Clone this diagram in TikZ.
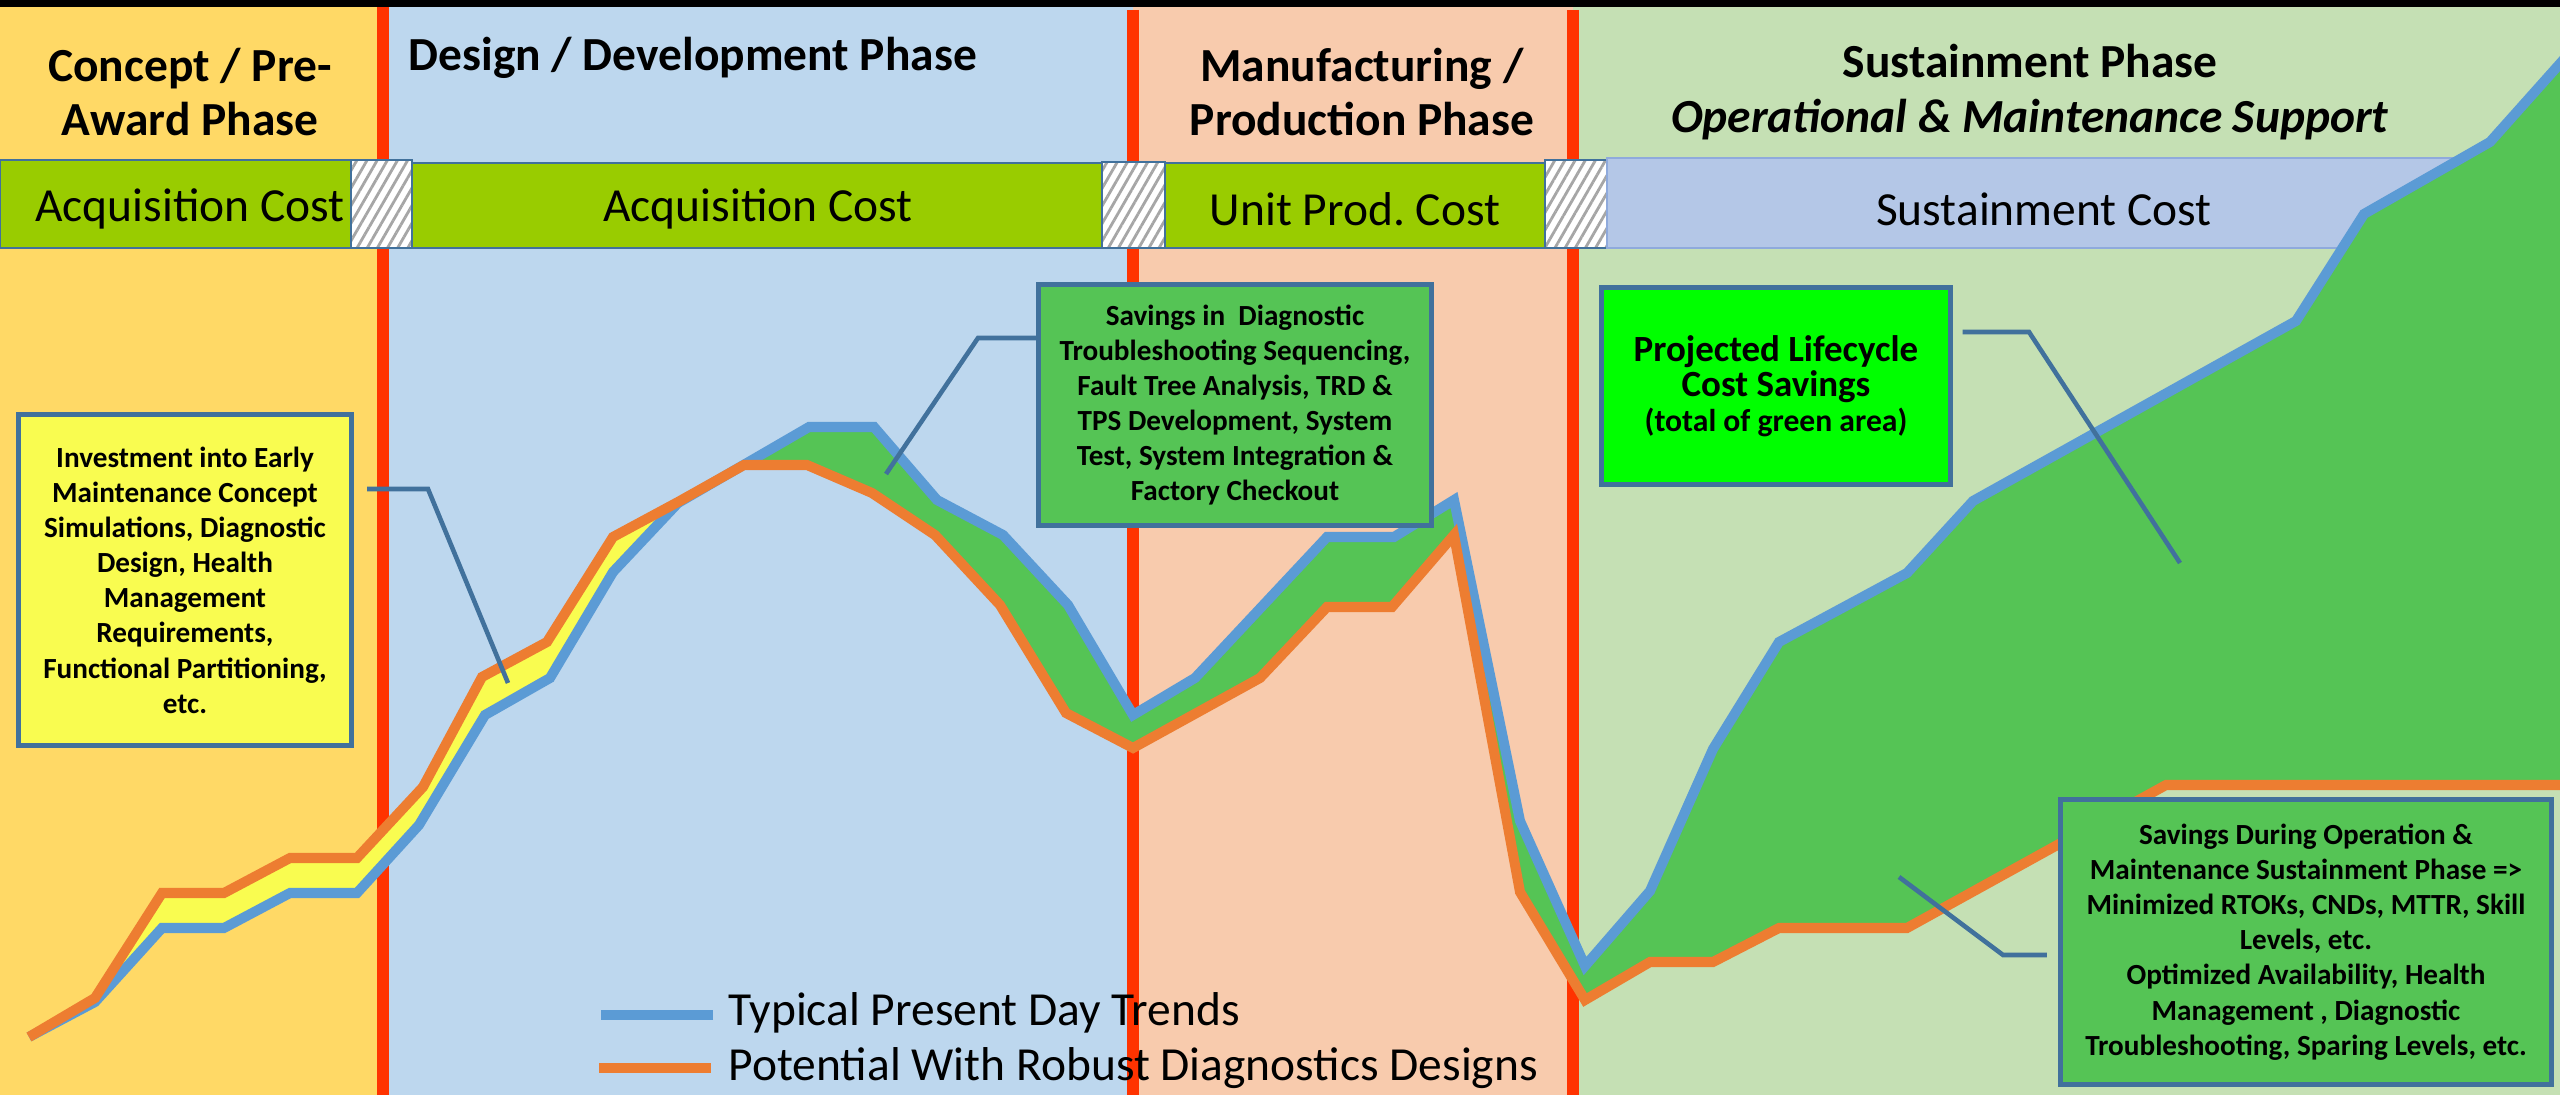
\documentclass[tikz,border=0pt]{standalone}
\usepackage{fontspec}
\setmainfont{Carlito}
\usetikzlibrary{patterns.meta}
\frenchspacing

\definecolor{conceptbg}{HTML}{FFD966}
\definecolor{designbg}{HTML}{BDD7EE}
\definecolor{manufbg}{HTML}{F8CBAD}
\definecolor{sustainbg}{HTML}{C5E0B4}
\definecolor{phaseline}{HTML}{FF3300}
\definecolor{costgreen}{HTML}{99CC00}
\definecolor{costblue}{HTML}{B4C7E7}
\definecolor{costedge}{HTML}{8FAADC}
\definecolor{boxedge}{HTML}{41719C}
\definecolor{hatchgray}{HTML}{A6A6A6}
\definecolor{typicalblue}{HTML}{5B9BD5}
\definecolor{robustorange}{HTML}{ED7D31}
\definecolor{savegreen}{HTML}{55C455}
\definecolor{investyellow}{HTML}{F9FC50}
\definecolor{brightgreen}{HTML}{00FF00}

\tikzset{
  phasetitle/.style={font=\fontsize{13.5}{15.6}\selectfont\bfseries, align=center, inner sep=0pt},
  costtext/.style={font=\fontsize{13.5}{16}\selectfont, inner sep=0pt},
  costbar/.style={fill=costgreen, draw=boxedge, line width=0.6pt},
  hatchbox/.style={pattern={Lines[angle=60,distance=2.5pt,line width=0.8pt]}, pattern color=hatchgray,
    preaction={fill=white}, draw=boxedge, line width=0.6pt},
  callout/.style={draw=boxedge, line width=1.4pt, align=center, inner sep=0pt,
    font=\fontsize{8.3}{10}\selectfont\bfseries},
  leader/.style={boxedge, line width=1.3pt},
  trend/.style={line width=2.85pt},
  legendtext/.style={font=\fontsize{13.5}{16}\selectfont, anchor=west, inner sep=0pt},
}

\begin{document}
\begin{tikzpicture}[x=0.01cm, y=-0.01cm]
    \useasboundingbox (0,0) rectangle (2560,1095);

    % Phase backgrounds
    \fill[black] (0,0) rectangle (2560,7);
    \fill[conceptbg] (0,7) rectangle (383,1095);
    \fill[designbg] (383,7) rectangle (1133,1095);
    \fill[manufbg] (1133,7) rectangle (1573,1095);
    \fill[sustainbg] (1573,7) rectangle (2560,1095);

    % Phase boundaries
    \draw[phaseline, line width=3.4pt] (383,7) -- (383,1095);
    \draw[phaseline, line width=3.4pt] (1133,10) -- (1133,1095);
    \draw[phaseline, line width=3.4pt] (1573,10) -- (1573,1095);

    % Cost bars
    \draw[costbar] (0,160) rectangle (351,248);
    \draw[hatchbox] (351,160) rectangle (412,248);
    \draw[costbar] (412,163) rectangle (1102,248);
    \draw[hatchbox] (1102,162) rectangle (1165,248);
    \draw[costbar] (1165,163) rectangle (1545,248);
    \draw[hatchbox] (1545,160) rectangle (1607,248);
    \draw[fill=costblue, draw=costedge, line width=0.6pt] (1607,158) rectangle (2560,248);

    \node[costtext] (acqone) at (190,209) {Acquisition Cost};
    \node[costtext] (acqtwo) at (758,209) {Acquisition Cost};
    \node[costtext] (unitprod) at (1355,209) {Unit Prod. Cost};
    \node[costtext] (sustcost) at (2044,209) {Sustainment Cost};

    % Phase titles
    \node[phasetitle] (concept) at (190,92) {Concept / Pre-\\Award Phase};
    \node[phasetitle, anchor=west] (design) at (408,58) {Design / Development Phase};
    \node[phasetitle] (manuf) at (1362,92) {Manufacturing /\\Production Phase};
    \node[phasetitle] (sustain) at (2030,92) {Sustainment Phase\\\textit{Operational \& Maintenance Support}};

    % Areas between the two trends
    \fill[investyellow] (95,998) -- (162,893) -- (224,893) -- (290,858) -- (357,858) -- (423,787)
        -- (482,677) -- (547,642) -- (613,537) -- (678,502)
        -- (613,572) -- (550,678) -- (485,715) -- (419,825) -- (357,893) -- (290,893)
        -- (224,928) -- (162,928) -- (95,1002) -- cycle;
    \fill[savegreen] (678,503) -- (809,427) -- (874,427) -- (937,500) -- (1003,535) -- (1068,605)
        -- (1133,715) -- (1195,678) -- (1327,537) -- (1394,537) -- (1454,500) -- (1520,821)
        -- (1585,966) -- (1650,891) -- (1713,749) -- (1779,642) -- (1907,573) -- (1973,501)
        -- (2296,321) -- (2364,214) -- (2490,142) -- (2560,62) -- (2560,785) -- (2166,785)
        -- (1907,928) -- (1779,928) -- (1713,962) -- (1650,962) -- (1585,1000) -- (1520,892)
        -- (1454,535) -- (1392,607) -- (1327,607) -- (1260,678) -- (1133,748) -- (1066,713)
        -- (1000,605) -- (935,535) -- (872,493) -- (807,465) -- (744,465) -- cycle;

    % Trends
    \draw[trend, typicalblue] (29,1037) -- (95,1002) -- (162,928) -- (224,928) -- (290,893)
        -- (357,893) -- (419,825) -- (485,715) -- (550,678) -- (613,572) -- (678,503)
        -- (809,427) -- (874,427) -- (937,500) -- (1003,535) -- (1068,605) -- (1133,715)
        -- (1195,678) -- (1327,537) -- (1394,537) -- (1454,500) -- (1520,821) -- (1585,966)
        -- (1650,891) -- (1713,749) -- (1779,642) -- (1907,573) -- (1973,501) -- (2296,321)
        -- (2364,214) -- (2490,142) -- (2565,58);
    \draw[trend, robustorange] (29,1037) -- (95,998) -- (162,893) -- (224,893) -- (290,858)
        -- (357,858) -- (423,787) -- (482,677) -- (547,642) -- (613,537) -- (678,502)
        -- (744,465) -- (807,465) -- (872,493) -- (935,535) -- (1000,605) -- (1066,713)
        -- (1133,748) -- (1260,678) -- (1327,607) -- (1392,607) -- (1454,535) -- (1520,892)
        -- (1585,1000) -- (1650,962) -- (1713,962) -- (1779,928) -- (1907,928) -- (2166,785)
        -- (2565,785);

    % Callouts
    \node[callout, fill=investyellow, minimum width=3.33cm, minimum height=3.31cm] (invest) at (185,580)
        {Investment into Early\\Maintenance Concept\\Simulations, Diagnostic\\Design, Health\\
         Management\\Requirements,\\Functional Partitioning,\\etc.};
    \node[callout, fill=savegreen, minimum width=3.93cm, minimum height=2.40cm] (diagsave) at (1235,405)
        {Savings in~ Diagnostic\\Troubleshooting Sequencing,\\Fault Tree Analysis, TRD \&\\
         TPS Development, System\\Test, System Integration \&\\Factory Checkout};
    \node[callout, fill=brightgreen, minimum width=3.48cm, minimum height=1.97cm] (lifecycle) at (1776,386)
        {\fontsize{10.5}{12.8}\selectfont Projected Lifecycle\\\fontsize{10.5}{12.8}\selectfont Cost Savings\\
         \fontsize{9}{11.5}\selectfont (total of green area)};
    \node[callout, fill=savegreen, minimum width=4.91cm, minimum height=2.85cm] (opsave) at (2306,942)
        {Savings During Operation \&\\Maintenance Sustainment Phase =>\\
         Minimized RTOKs, CNDs, MTTR, Skill\\Levels, etc.\\Optimized Availability, Health\\
         Management , Diagnostic\\Troubleshooting, Sparing Levels, etc.};

    % Leader lines
    \coordinate (investbend) at (428,489);
    \coordinate (investtip) at (508,683);
    \draw[leader] (invest.east |- investbend) ++(13,0) -- (investbend) -- (investtip);

    \coordinate (diagbend) at (978,338);
    \coordinate (diagtip) at (886,474);
    \draw[leader] (diagsave.west |- diagbend) -- (diagbend) -- (diagtip);

    \coordinate (lifebend) at (2029,332);
    \coordinate (lifetip) at (2180,563);
    \draw[leader] (lifecycle.east |- lifebend) ++(10,0) -- (lifebend) -- (lifetip);

    \coordinate (opbend) at (2003,955);
    \coordinate (optip) at (1899,877);
    \draw[leader] (opsave.west |- opbend) ++(-11,0) -- (opbend) -- (optip);

    % Legend
    \node[legendtext] (typical) at (728,1013) {Typical Present Day Trends};
    \node[legendtext] (robust) at (728,1068) {Potential With Robust Diagnostics Designs};
    \draw[typicalblue, line width=3.1pt] ([xshift=-0.15cm, yshift=-0.02cm]typical.west) -- ++(-112,0);
    \draw[robustorange, line width=3.1pt] ([xshift=-0.17cm]robust.west) -- ++(-112,0);

\end{tikzpicture}
\end{document}
